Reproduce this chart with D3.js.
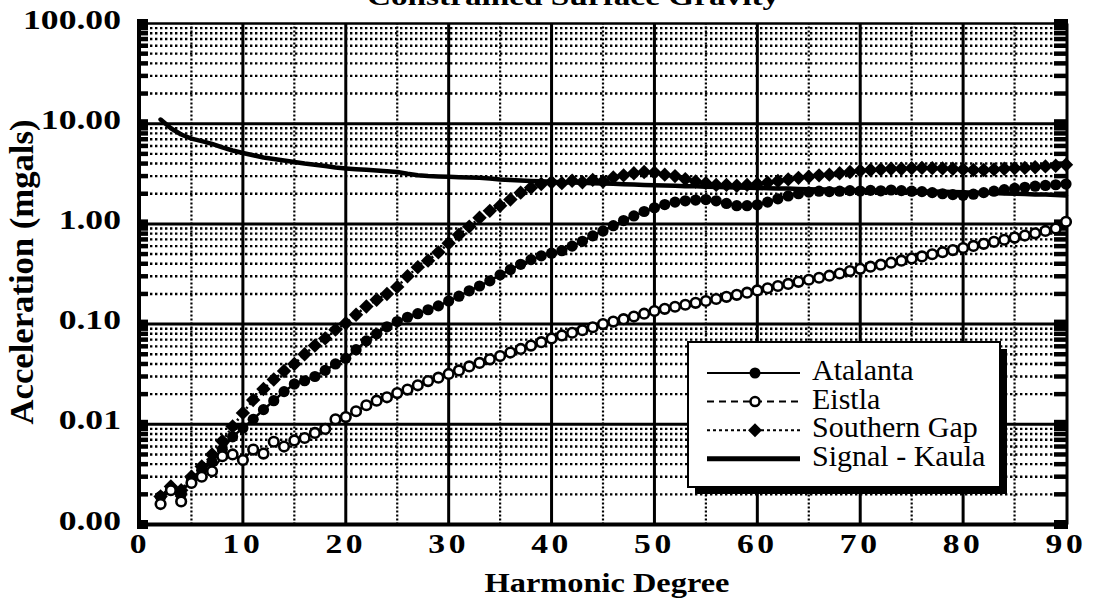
<!DOCTYPE html>
<html>
<head>
<meta charset="utf-8">
<script src="https://cdn.jsdelivr.net/npm/d3@7/dist/d3.min.js"></script>
<style>
  html, body { margin: 0; padding: 0; background: #fff; }
  svg { display: block; }
  text { font-family: "Liberation Serif", "Times New Roman", serif; fill: #000; }
</style>
</head>
<body>
<svg id="chart" width="1096" height="602"></svg>
<script>
// Harmonic degrees (x categories)
const degrees = [2,3,4,5,6,7,8,9,10,11,12,13,14,15,16,17,18,19,20,21,22,23,24,25,26,27,28,29,30,
  31,32,33,34,35,36,37,38,39,40,41,42,43,44,45,46,47,48,49,50,51,52,53,54,55,56,57,58,59,60,
  61,62,63,64,65,66,67,68,69,70,71,72,73,74,75,76,77,78,79,80,81,82,83,84,85,86,87,88,89,90];

// Acceleration per degree (mgals)
const atalanta = [0.0019,0.0023,0.0020,0.0029,0.0035,0.0042,0.0056,0.0075,0.0092,0.0112,0.0140,0.0172,0.0212,0.0252,
  0.0272,0.0300,0.0345,0.0400,0.0455,0.0555,0.0680,0.0800,0.0940,0.106,0.117,0.127,0.139,0.152,0.170,
  0.190,0.215,0.240,0.270,0.310,0.350,0.395,0.440,0.480,0.510,0.540,0.600,0.670,0.760,0.850,0.960,
  1.08,1.20,1.33,1.45,1.56,1.65,1.70,1.73,1.75,1.70,1.60,1.52,1.52,1.55,1.65,1.78,1.90,2.00,2.08,
  2.12,2.10,2.12,2.15,2.13,2.16,2.14,2.18,2.15,2.12,2.10,2.05,2.00,1.96,1.93,1.98,2.05,2.12,2.20,
  2.26,2.32,2.38,2.42,2.46,2.50];

const eistla = [0.0016,0.0022,0.0017,0.0026,0.0030,0.0034,0.0048,0.0050,0.0044,0.0056,0.0051,0.0067,0.0060,0.0069,
  0.0073,0.0082,0.0090,0.0112,0.0118,0.0135,0.0155,0.0172,0.0186,0.0205,0.0222,0.0245,0.0270,0.0292,
  0.0318,0.0345,0.0378,0.0410,0.0445,0.0480,0.0520,0.0565,0.0610,0.0660,0.0720,0.0770,0.0820,0.0870,
  0.0930,0.100,0.106,0.112,0.119,0.127,0.135,0.142,0.149,0.156,0.163,0.170,0.178,0.187,0.196,0.206,
  0.217,0.228,0.240,0.252,0.264,0.277,0.290,0.304,0.320,0.338,0.356,0.374,0.392,0.410,0.430,0.452,
  0.474,0.498,0.522,0.548,0.575,0.603,0.632,0.663,0.695,0.730,0.765,0.805,0.850,0.900,1.05];

const southernGap = [0.0019,0.0024,0.0022,0.0030,0.0038,0.0050,0.0068,0.0095,0.0130,0.0175,0.0225,0.0280,0.0340,
  0.0400,0.0500,0.0610,0.0720,0.0880,0.102,0.124,0.150,0.175,0.200,0.235,0.300,0.370,0.430,0.520,
  0.640,0.780,0.940,1.15,1.35,1.52,1.75,2.05,2.30,2.50,2.60,2.55,2.70,2.60,2.75,2.65,2.90,3.05,3.20,
  3.30,3.25,3.10,3.00,2.80,2.65,2.55,2.45,2.45,2.40,2.45,2.50,2.58,2.68,2.78,2.88,2.95,3.05,3.10,
  3.20,3.30,3.40,3.45,3.50,3.55,3.55,3.60,3.62,3.60,3.58,3.55,3.50,3.45,3.45,3.50,3.55,3.60,3.62,
  3.68,3.75,3.80,3.90];

const signalKaula = [11.0,9.0,7.8,7.1,6.7,6.3,5.8,5.4,5.1,4.85,4.6,4.45,4.3,4.15,4.0,3.9,3.78,3.66,3.58,3.52,
  3.47,3.42,3.36,3.3,3.16,3.06,3.01,2.98,2.95,2.92,2.9,2.88,2.84,2.78,2.74,2.71,2.68,2.66,2.63,
  2.61,2.59,2.57,2.55,2.53,2.51,2.49,2.47,2.45,2.43,2.41,2.40,2.38,2.37,2.35,2.34,2.32,2.31,2.30,
  2.28,2.27,2.26,2.25,2.23,2.22,2.21,2.20,2.19,2.18,2.17,2.16,2.15,2.14,2.13,2.12,2.11,2.10,2.09,
  2.08,2.07,2.05,2.04,2.03,2.01,2.00,1.99,1.97,1.96,1.94,1.92];

// Axis ticks
const xTicks = [0,10,20,30,40,50,60,70,80,90];
const xMidTicks = [5,15,25,35,45,55,65,75,85];
const yTicks = [0.001,0.01,0.1,1,10,100];
const yTickLabels = ["0.00","0.01","0.10","1.00","10.00","100.00"];

const seriesNames = ["Atalanta","Eistla","Southern Gap","Signal - Kaula"];

const svg = d3.select("#chart");
const x = d3.scaleLinear().domain([0, 90]).range([140, 1066]);
const y = d3.scaleLog().domain([0.001, 100]).range([524.5, 23.5]);
const [xL, xR] = x.range();
const [yB, yT] = y.range();

// minor log positions (2..9 in each decade)
const minorY = [];
for (let i = 0; i < yTicks.length - 1; i++) {
  for (let m = 2; m <= 9; m++) minorY.push(yTicks[i] * m);
}

const grid = svg.append("g");
// dotted minor horizontal lines
grid.selectAll("line.hminor").data(minorY).join("line")
  .attr("x1", xL).attr("x2", xR)
  .attr("y1", d => y(d)).attr("y2", d => y(d))
  .attr("stroke", "#000").attr("stroke-width", 2.4)
  .attr("stroke-dasharray", "2.4,2.6");
// dotted vertical lines at odd multiples of 5
grid.selectAll("line.vminor").data(xMidTicks).join("line")
  .attr("x1", d => x(d)).attr("x2", d => x(d))
  .attr("y1", yB).attr("y2", yT)
  .attr("stroke", "#000").attr("stroke-width", 2.2)
  .attr("stroke-dasharray", "2,2");
// solid decade lines
grid.selectAll("line.hmajor").data(yTicks.slice(1, -1)).join("line")
  .attr("x1", xL).attr("x2", xR)
  .attr("y1", d => y(d)).attr("y2", d => y(d))
  .attr("stroke", "#000").attr("stroke-width", 3);
// solid vertical lines every 10 degrees
grid.selectAll("line.vmajor").data(xTicks.slice(1, -1)).join("line")
  .attr("x1", d => x(d)).attr("x2", d => x(d))
  .attr("y1", yB).attr("y2", yT)
  .attr("stroke", "#000").attr("stroke-width", 3);

// frame
svg.append("line").attr("x1", xL - 3).attr("x2", xR + 2).attr("y1", yT).attr("y2", yT)
  .attr("stroke", "#000").attr("stroke-width", 2.5);
svg.append("line").attr("x1", xL - 3).attr("x2", xR + 2).attr("y1", yB).attr("y2", yB)
  .attr("stroke", "#000").attr("stroke-width", 4);
svg.append("line").attr("x1", xL - 1).attr("x2", xL - 1).attr("y1", yT).attr("y2", yB)
  .attr("stroke", "#000").attr("stroke-width", 4);
svg.append("line").attr("x1", xR + 1).attr("x2", xR + 1).attr("y1", yT).attr("y2", yB)
  .attr("stroke", "#000").attr("stroke-width", 3);

// tick marks on left and right edges
const allY = minorY.concat(yTicks);
svg.append("g").selectAll("line").data(allY).join("line")
  .attr("x1", xL - 3).attr("x2", xL + 8)
  .attr("y1", d => y(d)).attr("y2", d => y(d))
  .attr("stroke", "#000").attr("stroke-width", d => yTicks.includes(d) ? 9 : 4.5);
svg.append("g").selectAll("line").data(allY).join("line")
  .attr("x1", xR - 12).attr("x2", xR + 2)
  .attr("y1", d => y(d)).attr("y2", d => y(d))
  .attr("stroke", "#000").attr("stroke-width", d => yTicks.includes(d) ? 9 : 4.5);

// series
const pts = vals => degrees.map((d, i) => [d, vals[i]]);
const line = d3.line().x(d => x(d[0])).y(d => y(d[1]));

const plot = svg.append("g");

plot.append("path").datum(pts(signalKaula))
  .attr("d", line).attr("fill", "none").attr("stroke", "#000")
  .attr("stroke-width", 4.5).attr("stroke-linejoin", "round").attr("stroke-linecap", "round");

const diamondPath = (cx, cy, r) => `M${cx},${cy - r}L${cx + r},${cy}L${cx},${cy + r}L${cx - r},${cy}Z`;

// Atalanta: solid line, filled circles
plot.append("path").datum(pts(atalanta))
  .attr("d", line).attr("fill", "none").attr("stroke", "#000").attr("stroke-width", 2.5);
plot.append("g").selectAll("circle").data(pts(atalanta)).join("circle")
  .attr("cx", d => x(d[0])).attr("cy", d => y(d[1])).attr("r", 5.6).attr("fill", "#000");

// Southern Gap: dotted line, filled diamonds
plot.append("path").datum(pts(southernGap))
  .attr("d", line).attr("fill", "none").attr("stroke", "#000").attr("stroke-width", 2.5)
  .attr("stroke-dasharray", "2,3");
plot.append("g").selectAll("path").data(pts(southernGap)).join("path")
  .attr("d", d => diamondPath(x(d[0]), y(d[1]), 7.2)).attr("fill", "#000");

// Eistla: dashed line, open circles
plot.append("path").datum(pts(eistla))
  .attr("d", line).attr("fill", "none").attr("stroke", "#000").attr("stroke-width", 2.2)
  .attr("stroke-dasharray", "7,5");
plot.append("g").selectAll("circle").data(pts(eistla)).join("circle")
  .attr("cx", d => x(d[0])).attr("cy", d => y(d[1])).attr("r", 4.8)
  .attr("fill", "#fff").attr("stroke", "#000").attr("stroke-width", 2.6);

// stretched text helper
function label(txt, px, py, opts) {
  const o = Object.assign({ size: 28, weight: "bold", anchor: "middle", sx: 1.3, rotate: 0, spacing: 0 }, opts);
  svg.append("text")
    .attr("transform", `translate(${px},${py}) rotate(${o.rotate}) scale(${o.sx},1)`)
    .attr("text-anchor", o.anchor)
    .attr("font-size", o.size).attr("font-weight", o.weight)
    .attr("letter-spacing", o.spacing)
    .text(txt);
}

// y tick labels
yTicks.forEach((v, i) => label(yTickLabels[i], 121, y(v) + 5, { anchor: "end", size: 27, sx: 1.32 }));
// x tick labels
xTicks.forEach(v => label(String(v), x(v), 553, { size: 28, sx: 1.2, spacing: 3 }));

// axis titles
label("Harmonic  Degree", 607, 592, { size: 27, sx: 1.2 });
label("Acceleration  (mgals)", 33, 272, { size: 33, sx: 1.05, rotate: -90 });

// chart title (top edge of page)
label("Constrained  Surface  Gravity", 573, 5, { size: 26, sx: 1.28 });

// legend
const lg = svg.append("g");
const bx = 688, by = 342, bw = 312, bh = 145;
lg.append("rect").attr("x", bx + 7).attr("y", by + 7).attr("width", bw).attr("height", bh).attr("fill", "#000");
lg.append("rect").attr("x", bx).attr("y", by).attr("width", bw).attr("height", bh)
  .attr("fill", "#fff").attr("stroke", "#000").attr("stroke-width", 2);

const rows = [
  { name: seriesNames[0], dash: null, w: 2, marker: "dot" },
  { name: seriesNames[1], dash: "7,5", w: 2, marker: "open" },
  { name: seriesNames[2], dash: "3,3", w: 2, marker: "diamond" },
  { name: seriesNames[3], dash: null, w: 5, marker: null }
];
rows.forEach((r, i) => {
  const cy = 373 + i * 28.6;
  lg.append("line").attr("x1", 707).attr("x2", 800).attr("y1", cy).attr("y2", cy)
    .attr("stroke", "#000").attr("stroke-width", r.w)
    .attr("stroke-dasharray", r.dash);
  if (r.marker === "dot") lg.append("circle").attr("cx", 755).attr("cy", cy).attr("r", 5.5).attr("fill", "#000");
  if (r.marker === "open") lg.append("circle").attr("cx", 755).attr("cy", cy).attr("r", 4.5)
    .attr("fill", "#fff").attr("stroke", "#000").attr("stroke-width", 2.5);
  if (r.marker === "diamond") lg.append("path").attr("d", diamondPath(755, cy, 7)).attr("fill", "#000");
  lg.append("text").attr("x", 812).attr("y", cy + 7).attr("font-size", 30)
    .attr("font-weight", "normal").text(r.name);
});
</script>
</body>
</html>
